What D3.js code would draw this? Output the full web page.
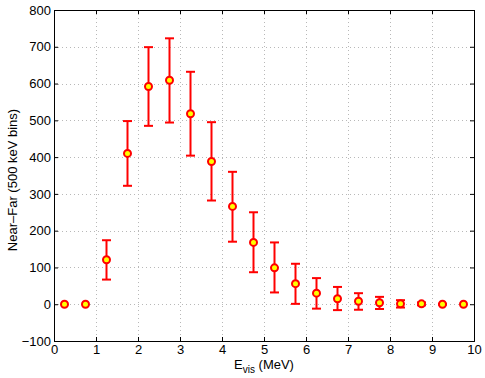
<!DOCTYPE html>
<html><head><meta charset="utf-8">
<script src="https://cdn.jsdelivr.net/npm/d3@7"></script>
<style>body{margin:0;background:#fff}svg{display:block}text{font-family:"Liberation Sans",Arial,sans-serif}</style>
</head><body>
<svg id="c" width="485" height="378"></svg>
<script>
const xVals = [0.25,0.75,1.25,1.75,2.25,2.75,3.25,3.75,4.25,4.75,5.25,5.75,6.25,6.75,7.25,7.75,8.25,8.75,9.25,9.75];
const yVals = [0,0,121,410,592,609,518,388,266,168,99,56,30,15,8,4,1,1,0,0];
const yLow  = [0,0,67,322,485,494,404,282,170,87,32,1,-12,-16,-15,-13,-9,-3,-1,0];
const yHigh = [0,0,174,498,699,723,632,495,360,250,168,110,71,47,30,20,11,5,1,0];
const xTicks = [0,1,2,3,4,5,6,7,8,9,10];
const yTicks = [-100,0,100,200,300,400,500,600,700,800];

const svg = d3.select("#c");
const L=54,R=474,T=10,B=341;
const x = d3.scaleLinear().domain([0,10]).range([L,R]);
const y = d3.scaleLinear().domain([-100,800]).range([B,T]);

// grid
const g = svg.append("g");
g.selectAll(".gx").data(xTicks.slice(1,-1)).enter().append("line")
 .attr("x1",d=>x(d)+0.5).attr("x2",d=>x(d)+0.5).attr("y1",T).attr("y2",B)
 .attr("stroke","#b8b8b8").attr("stroke-width",1).attr("stroke-dasharray","1,3");
g.selectAll(".gy").data(yTicks.slice(1,-1)).enter().append("line")
 .attr("y1",d=>Math.round(y(d))+0.5).attr("y2",d=>Math.round(y(d))+0.5).attr("x1",L).attr("x2",R)
 .attr("stroke","#b8b8b8").attr("stroke-width",1).attr("stroke-dasharray","1,3");

// axes
const xAxis = d3.axisBottom(x).tickValues(xTicks).tickSize(-4).tickPadding(4).tickFormat(d3.format("d"));
const yAxis = d3.axisLeft(y).tickValues(yTicks).tickSize(-4).tickPadding(3).tickFormat(d=>d<0?"\u2212"+Math.abs(d):d);
const ax = svg.append("g").attr("transform",`translate(0,${B})`).call(xAxis);
const ay = svg.append("g").attr("transform",`translate(${L},0)`).call(yAxis);
const axT = svg.append("g").attr("transform",`translate(0,${T})`).call(d3.axisTop(x).tickValues(xTicks).tickSize(-4).tickFormat(""));
const ayR = svg.append("g").attr("transform",`translate(${R},0)`).call(d3.axisRight(y).tickValues(yTicks).tickSize(-4).tickFormat(""));
[ax,ay,axT,ayR].forEach(a=>{
  a.select(".domain").attr("stroke","#000").attr("stroke-width",1);
  a.selectAll(".tick line").attr("stroke","#000");
  a.selectAll("text").attr("fill","#000").style("font-size","13px");
});

// error bars
const pts = xVals.map((v,i)=>({x:v,y:yVals[i],lo:yLow[i],hi:yHigh[i]}));
const eb = svg.append("g").attr("stroke","#ff0000").attr("stroke-width",2).attr("fill","none");
pts.forEach(p=>{
  if (p.hi-p.lo<=0) return;
  eb.append("line").attr("x1",x(p.x)).attr("x2",x(p.x)).attr("y1",y(p.lo)).attr("y2",y(p.hi));
  eb.append("line").attr("x1",x(p.x)-4.5).attr("x2",x(p.x)+4.5).attr("y1",y(p.lo)).attr("y2",y(p.lo));
  eb.append("line").attr("x1",x(p.x)-4.5).attr("x2",x(p.x)+4.5).attr("y1",y(p.hi)).attr("y2",y(p.hi));
});
svg.append("g").selectAll("circle").data(pts).enter().append("circle")
 .attr("cx",d=>x(d.x)).attr("cy",d=>y(d.y)).attr("r",3.5)
 .attr("fill","#ffff00").attr("stroke","#ff0000").attr("stroke-width",2);

// labels
const xl = svg.append("text").attr("x",264).attr("y",369).attr("text-anchor","middle").style("font-size","13px").attr("fill","#000");
xl.append("tspan").text("E");
xl.append("tspan").attr("dy",4).style("font-size","10px").text("vis");
xl.append("tspan").attr("dy",-4).text(" (MeV)");
svg.append("text").attr("transform",`translate(17,180) rotate(-90)`).attr("text-anchor","middle")
 .style("font-size","13px").attr("fill","#000").text("Near\u2013Far (500 keV bins)");
</script>
</body></html>
